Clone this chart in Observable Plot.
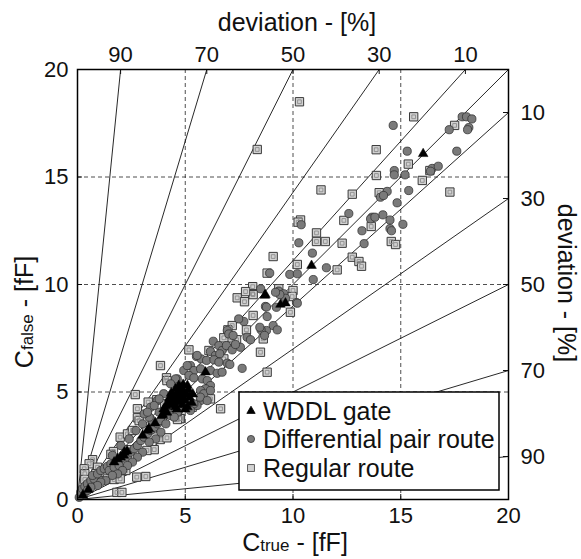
<!DOCTYPE html>
<html><head><meta charset="utf-8">
<script src="https://cdn.jsdelivr.net/npm/d3@7"></script>
<script src="https://cdn.jsdelivr.net/npm/@observablehq/plot@0.6"></script>
<style>body{margin:0;background:#fff} #chart{width:581px;height:559px}</style>
</head><body><div id="chart"></div>
<script>
// ---- data ----
const xTicks = [0, 5, 10, 15, 20];
const yTicks = [0, 5, 10, 15, 20];
const gridTicks = [5, 10, 15];
const topDeviation = [90, 70, 50, 30, 10];
const rightDeviation = [10, 30, 50, 70, 90];
const legendLabels = ["WDDL gate", "Differential pair route", "Regular route"];

const wddl = [
  [0.25,0.2],[0.5,0.45],[1.7,1.74],[1.86,1.89],[2.0,1.97],[2.17,2.2],[2.15,2.05],[2.3,2.25],
  [3.02,2.98],[3.25,3.21],[3.31,3.29],[3.6,3.55],[3.93,3.9],[3.95,3.95],[4.15,4.05],[4.0,4.2],
  [4.1,4.35],[4.2,4.5],[4.3,4.4],[4.25,4.7],[4.4,4.6],[4.45,4.85],[4.5,4.5],[4.55,4.3],[4.6,4.7],
  [4.65,5.0],[4.7,4.55],[4.75,4.85],[4.8,5.2],[4.85,4.4],[4.9,4.7],[4.95,5.0],[5.0,4.6],[5.05,4.9],
  [5.1,4.3],[5.15,5.1],[5.2,4.75],[5.3,4.5],[4.35,4.95],[4.55,5.15],[4.7,5.3],[4.9,5.35],[5.0,4.2],
  [4.6,4.2],[4.8,4.95],[5.1,5.3],[5.35,4.9],[5.94,5.92],[8.69,9.49],[8.72,9.52],[9.42,9.07],
  [9.65,9.13],[10.86,10.88],[16.04,16.08]
];

const diffPair = [
  [14.65,17.4],[17.85,17.8],[18.05,17.8],[18.3,17.7],[18.16,17.3],[18.1,17.2],[17.25,17.2],[17.6,16.2],
  [15.3,16.2],[14.7,15.3],[14.7,15.1],[15.2,15.1],[16.46,15.4],[16.74,15.5],[16.38,15.27],[15.37,14.37],
  [14.37,14.33],[14.06,14.06],[14.2,14.14],[14.83,13.8],[13.67,13.13],[13.6,13.05],[14.17,13.24],
  [14.5,13.0],[14.5,12.6],[14.57,12.5],[15.1,12.8],[13.2,12.5],[13.3,11.9],
  [12.59,13.3],[13.8,13.13],[10.38,12.78],[10.27,11.94],[10.9,11.46],[11.55,10.78],[8.92,10.53],
  [9.85,10.47],[10.2,10.5],[10.94,10.23],[8.5,9.8],[9.34,9.69],[9.57,9.57],[9.65,9.36],[10.16,9.16],
  [8.72,8.98],[9.23,8.94],
  [9.39,9.53],[9.19,9.64],[10.2,9.13],[8.77,8.95],[8.8,8.51],[7.72,8.28],[7.48,8.4],[9.08,8.09],
  [9.27,7.89],[8.77,7.86],[8.52,7.89],[8.68,7.63],[8.46,8.01],[6.95,7.86],[7.02,7.7],[7.22,7.63],
  [7.87,7.55],[8.03,7.43],[6.3,7.36],[6.56,7.16],[6.71,6.93],[6.91,7.16],[7.18,6.96],[7.56,7.08],
  [7.33,7.21],[6.17,6.88],[6.4,6.7],[6.6,6.78],[5.52,6.65],[5.74,6.54],[5.99,6.47],[6.33,6.5],
  [6.56,6.39],[6.95,6.34],[7.07,6.28],[7.64,6.1],[5.24,6.23],[5.4,6.0],[5.71,6.08],[6.17,6.0],
  [6.48,5.87],[6.71,5.92],[4.93,6.0],[5.17,5.77],[5.4,5.66],[5.79,5.61],[6.02,5.53],[6.17,5.3],
  [5.94,5.15],[5.71,5.07],[5.86,4.92],[6.17,5.07],[4.63,5.61],[5.71,4.6],[5.55,4.37],
  [5.4,4.45],[5.7,4.76],[6.02,4.6],[5.24,4.14],[4.7,4.14],[4.32,3.9],[3.85,3.67],[3.47,3.52],
  [5.55,6.7],[5.09,6.23],[4.55,5.61],[4.32,5.38],[4.0,4.92],[3.7,4.6],[3.39,4.29],
  [0.08,0.1],[0.3,0.25],[0.15,0.34],[0.23,0.5],[0.34,0.61],[0.46,0.73],[0.62,0.88],[0.77,0.96],
  [0.7,1.12],[0.93,1.19],[1.08,1.35],[1.24,1.43],[1.39,1.54],[1.55,1.66],[1.47,1.35],[1.7,1.5],
  [1.86,1.81],[2.01,1.89],[1.93,1.58],[2.17,2.05],[2.32,1.97],[2.47,2.2],[2.63,2.36],[2.78,2.51],
  [2.94,2.74],[3.09,2.9],[3.25,3.05],[3.4,3.21],[3.56,3.36],[3.71,3.52],[3.87,3.67],[3.48,3.67],
  [3.33,3.83],[3.09,3.98],[3.79,4.06],[4.18,4.22],[4.33,4.37],[4.64,4.06],[4.49,3.83],[4.1,3.52],
  [3.87,3.13],[3.63,2.82],[3.33,2.67],[3.02,2.2],[2.78,1.97],[2.55,1.74],[2.32,1.58],[2.09,1.35],
  [1.86,1.19],[1.62,1.12],[1.31,0.88],[1.08,0.81],[0.93,0.65],[0.62,0.57],[0.46,0.42],
  [1.62,2.05],[2.01,2.51],[2.4,2.82],[2.71,3.21],[3.02,3.52],[3.25,4.06],[3.56,4.37],[3.79,4.68]
];

const regular = [
  [15.6,17.8],[17.5,17.4],[13.86,16.27],[15.35,15.6],[16.35,15.3],[16.0,14.84],[13.87,15.07],
  [17.28,14.3],[14.0,14.27],[13.63,12.7],[14.56,12.0],[14.76,11.86],
  [10.3,18.5],[8.34,16.28],
  [11.3,14.4],[12.75,14.2],[10.35,13.0],[10.24,12.9],[12.36,12.98],[11.09,12.4],[11.09,12.0],
  [11.5,12.0],[12.28,11.92],[9.08,11.3],[12.75,11.27],[13.06,11.07],[13.18,10.85],[12.05,10.68],
  [10.2,10.93],[8.8,10.53],[8.13,9.9],[8.13,9.57],[7.41,9.38],[7.75,9.2],[9.34,9.8],[10.0,9.72],
  [9.96,9.44],
  [8.15,9.53],[7.8,9.67],[9.88,8.71],[8.15,8.56],[7.84,7.89],[7.18,8.09],[6.98,7.89],[7.22,7.4],
  [7.38,7.43],[7.02,7.52],[6.79,7.52],[8.62,7.47],[8.49,6.85],[6.1,6.93],[6.79,6.54],[5.17,6.96],
  [8.8,5.92],[3.85,6.23],[4.13,5.66],[6.17,4.68],[6.64,4.22],[5.32,4.29],[4.78,3.77],
  [2.68,4.88],[4.15,5.53],[3.28,4.53],[3.68,4.64],[4.05,4.45],[2.78,4.22],[2.78,3.8],[4.75,3.76],
  [4.64,3.72],[2.86,3.67],[1.98,2.9],[2.32,3.05],[2.55,3.21],[3.22,3.21],[3.48,3.29],[3.84,2.79],
  [4.15,2.87],[3.56,2.32],[3.22,2.28],[1.67,2.23],[1.55,2.1],[0.7,1.85],[0.54,1.66],[0.31,1.43],
  [0.34,1.2],[0.93,1.5],[1.24,1.27],[0.85,1.2],[1.39,0.96],[1.7,0.93],[1.98,0.96],[2.24,1.35],
  [2.75,1.04],[3.17,1.07],[1.83,0.33],[2.06,0.33],[0.34,0.93],[2.4,2.32],[2.29,1.74]
];

// ---- layout ----
const FONT = "'Liberation Sans', Arial, Helvetica, sans-serif";
const W = 581, H = 559, mL = 77, mR = 73, mT = 69, mB = 60;
const unitPx = (H - mT - mB) / 20;
const tickLen = 5 / unitPx;

const upperLines = [0, ...topDeviation].map(d => ({x1: 0, y1: 0, x2: 20 * (1 - d / 100), y2: 20}));
const lowerLines = rightDeviation.map(d => ({x1: 0, y1: 0, x2: 20, y2: 20 * (1 - d / 100)}));
const topPos = topDeviation.map(d => 20 * (1 - d / 100));
const rightPos = rightDeviation.map(d => 20 * (1 - d / 100));

const X = d => d[0], Y = d => d[1];

const chart = Plot.plot({
  width: W, height: H,
  marginLeft: mL, marginRight: mR, marginTop: mT, marginBottom: mB,
  x: {domain: [0, 20]},
  y: {domain: [0, 20]},
  style: {fontFamily: FONT, background: "white", color: "#111"},
  marks: [
    Plot.ruleX(gridTicks, {stroke: "#222", strokeDasharray: "4,3", strokeWidth: 0.8}),
    Plot.ruleY(gridTicks, {stroke: "#222", strokeDasharray: "4,3", strokeWidth: 0.8}),
    Plot.link([...upperLines, ...lowerLines], {x1: "x1", y1: "y1", x2: "x2", y2: "y2", stroke: "#111", strokeWidth: 0.9}),
    // inward ticks
    Plot.ruleX(topPos, {y1: 20, y2: 20 - tickLen, stroke: "#111", strokeWidth: 1}),
    Plot.ruleY(rightPos, {x1: 20, x2: 20 - tickLen, stroke: "#111", strokeWidth: 1}),
    Plot.ruleX(gridTicks, {y1: 0, y2: tickLen, stroke: "#111", strokeWidth: 1}),
    Plot.ruleY(gridTicks, {x1: 0, x2: tickLen, stroke: "#111", strokeWidth: 1}),
    // points
    Plot.dot(regular, {x: X, y: Y, symbol: "square", r: 4.7, fill: "#d2d2d2", stroke: "#3a3a3a", strokeWidth: 1}),
    Plot.dot(regular, {x: X, y: Y, symbol: "square", r: 2.1, fill: "none", stroke: "#8c8c8c", strokeWidth: 0.9}),
    Plot.dot(diffPair, {x: X, y: Y, r: 4.1, fill: "#7a7a7a", stroke: "#333", strokeWidth: 0.8}),
    Plot.dot(wddl, {x: X, y: Y, symbol: "triangle", r: 3.6, fill: "#000", stroke: "#000", strokeWidth: 0.5}),
    Plot.frame({stroke: "#000", strokeWidth: 1.5}),
    // axes
    Plot.axisX(xTicks, {anchor: "bottom", tickSize: 0, tickPadding: 8, fontSize: 22, label: null}),
    Plot.axisY(yTicks, {anchor: "left", tickSize: 0, tickPadding: 9, fontSize: 22, label: null}),
    Plot.axisX(topPos, {anchor: "top", tickSize: 0, tickPadding: 8, fontSize: 22, label: null,
      tickFormat: x => String(Math.round(100 * (1 - x / 20)))}),
    Plot.axisY(rightPos, {anchor: "right", tickSize: 0, tickPadding: 12, fontSize: 22, label: null,
      tickFormat: y => String(Math.round(100 * (1 - y / 20)))})
  ]
});

document.getElementById("chart").appendChild(chart);

// ---- axis titles & legend ----
const svg = d3.select(chart);
const big = 25, small = 17;

function subTitle(g, main, sub, rest) {
  const t = g.append("text").attr("text-anchor", "middle").attr("font-family", FONT).attr("fill", "#111");
  t.append("tspan").attr("font-size", big).text(main);
  t.append("tspan").attr("font-size", small).text(sub);
  t.append("tspan").attr("font-size", big).text(rest);
  return t;
}

svg.append("text").attr("x", 297).attr("y", 31).attr("text-anchor", "middle")
  .attr("font-family", FONT).attr("font-size", big).attr("fill", "#111").text("deviation - [%]");

subTitle(svg.append("g").attr("transform", "translate(295,551)"), "C", "true", " - [fF]");
subTitle(svg.append("g").attr("transform", "translate(33,312) rotate(-90)"), "C", "false", " - [fF]");

svg.append("text").attr("transform", "translate(558,283) rotate(90)").attr("text-anchor", "middle")
  .attr("font-family", FONT).attr("font-size", big).attr("fill", "#111").text("deviation - [%]");

const lg = svg.append("g").attr("text-anchor", "start");
lg.append("rect").attr("x", 239).attr("y", 392).attr("width", 260).attr("height", 98)
  .attr("fill", "white").attr("stroke", "#000").attr("stroke-width", 1.5);
const rowY = [411, 439, 468];
const sym = [
  {type: d3.symbolTriangle, size: 30, fill: "#000", stroke: "#000"},
  {type: d3.symbolCircle, size: 40, fill: "#7a7a7a", stroke: "#333"},
  {type: d3.symbolSquare, size: 48, fill: "#d2d2d2", stroke: "#3a3a3a"}
];
legendLabels.forEach((label, i) => {
  lg.append("path").attr("transform", `translate(251,${rowY[i]})`)
    .attr("d", d3.symbol(sym[i].type, sym[i].size)())
    .attr("fill", sym[i].fill).attr("stroke", sym[i].stroke).attr("stroke-width", 0.8);
  lg.append("text").attr("x", 263).attr("y", rowY[i] + 9).attr("text-anchor", "start")
    .attr("font-family", FONT).attr("font-size", big).attr("fill", "#111").text(label);
});
</script>
</body></html>
